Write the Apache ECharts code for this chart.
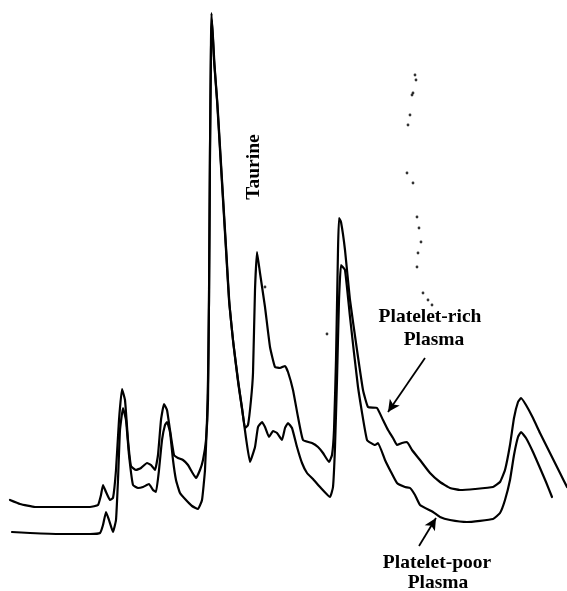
<!DOCTYPE html>
<html>
<head>
<meta charset="utf-8">
<script src="https://cdn.jsdelivr.net/npm/echarts@6/dist/echarts.min.js"></script>
<style>html,body{margin:0;padding:0;background:#fff}#c{width:567px;height:591px}</style>
</head>
<body>
<div id="c"></div>
<script>
const richX = [10,20,35,60,90,98,101,103,106,110,113,116,119,122,125,128,131,136,141,147,151,155,158,161,164,167,170,174,178,183,188,192,196,200,203,206,208,209,210,211,211.5,214,217,220,223,226,229,233,238,242,245,248,251,253,255,257,260,265,270,275,280,285,288,293,298,303,312,318,323,329,332,334,336,338,339,341,345,350,357,363,368,377,383,388,393,397,402,407,412,420,430,440,450,460,475,493,500,505,510,514,518,521,526,533,540,550,560,567];
const richY = [500,504,507,507,507,505,495,485,492,500,498,470,420,389,400,440,466,470,468,463,465,470,455,420,404,410,430,455,458,460,465,472,478,470,460,440,400,300,150,40,13,60,100,150,200,250,300,340,380,408,428,425,400,373,290,252,273,307,347,367,368,366,372,390,417,440,443,447,453,462,455,430,360,250,218,222,250,300,350,390,407,408,420,430,438,445,443,442,450,460,473,482,488,490,489,487,482,470,445,418,402,398,405,418,433,453,473,487];
const poorX = [12,30,60,90,100,103,106,109,113,116,118,120,123,126,129,133,138,143,149,153,156,159,162,165,167,170,173,176,180,186,192,198,202,205,207,208,209,210,211,212,214.5,217.5,220.5,223.5,226.5,229.5,233.5,238.5,242.5,246,250,255,258,262,265,269,273,277,282,285,288,292,297,302,307,313,320,330,333,335,337,339,341,345,350,358,367,375,378,385,391,397,405,410,415,420,433,440,450,467,493,500,505,510,514,518,521,526,533,540,546,552];
const poorY = [532,533,534,534,533,525,512,520,532,520,480,430,408,420,455,485,488,487,484,490,492,470,440,425,422,432,460,480,493,500,506,509,500,470,420,380,300,150,50,20,65,105,155,205,255,305,345,385,412,438,462,447,427,422,427,437,431,433,440,428,423,428,447,463,473,479,487,497,487,447,380,300,265,270,317,387,440,445,443,460,472,483,487,488,495,505,512,517,520,522,519,513,500,480,455,437,432,438,452,468,482,497];
// faint dotted trace
const dotsX = [415,416,413,412,410,408,407,413,417,419,421,418,417,423,428,432,327,265];
const dotsY = [75,80,93,95,115,125,173,183,217,228,242,253,267,293,300,305,334,287];

const richData = richX.map((x,i)=>[x,richY[i]]);
const poorData = poorX.map((x,i)=>[x,poorY[i]]);
const dotData = dotsX.map((x,i)=>[x,dotsY[i]]);

const chart = echarts.init(document.getElementById('c'));
const lineStyle = {color:'#000', width:2.2, join:'round', cap:'round'};
const font = 'bold 19.5px "Liberation Serif", serif';
chart.setOption({
  animation:false,
  backgroundColor:'#fff',
  grid:{left:0,right:0,top:0,bottom:0},
  xAxis:{type:'value',min:0,max:567,show:false},
  yAxis:{type:'value',min:0,max:591,inverse:true,show:false},
  series:[
    {name:'Platelet-rich Plasma',type:'line',data:richData,showSymbol:false,smooth:0.12,lineStyle:lineStyle,
     markLine:{silent:true,symbol:['none','arrow'],symbolSize:[9,12],label:{show:false},
       lineStyle:{color:'#000',width:1.8,type:'solid'},
       data:[[{coord:[425,358]},{coord:[388,412]}]]}},
    {name:'Platelet-poor Plasma',type:'line',data:poorData,showSymbol:false,smooth:0.12,lineStyle:lineStyle,
     markLine:{silent:true,symbol:['none','arrow'],symbolSize:[9,12],label:{show:false},
       lineStyle:{color:'#000',width:1.8,type:'solid'},
       data:[[{coord:[419,546]},{coord:[436,518]}]]}},
    {type:'scatter',data:dotData,symbolSize:2.8,itemStyle:{color:'#000'}}
  ],
  graphic:[
    {type:'text',x:254,y:167,rotation:Math.PI/2,style:{text:'Taurine',font:font,fill:'#000',align:'center',verticalAlign:'middle'}},
    {type:'text',x:430,y:317,style:{text:'Platelet-rich',font:font,fill:'#000',align:'center',verticalAlign:'middle'}},
    {type:'text',x:434,y:340,style:{text:'Plasma',font:font,fill:'#000',align:'center',verticalAlign:'middle'}},
    {type:'text',x:437,y:563,style:{text:'Platelet-poor',font:font,fill:'#000',align:'center',verticalAlign:'middle'}},
    {type:'text',x:438,y:583,style:{text:'Plasma',font:font,fill:'#000',align:'center',verticalAlign:'middle'}}
  ]
});
</script>
</body>
</html>
